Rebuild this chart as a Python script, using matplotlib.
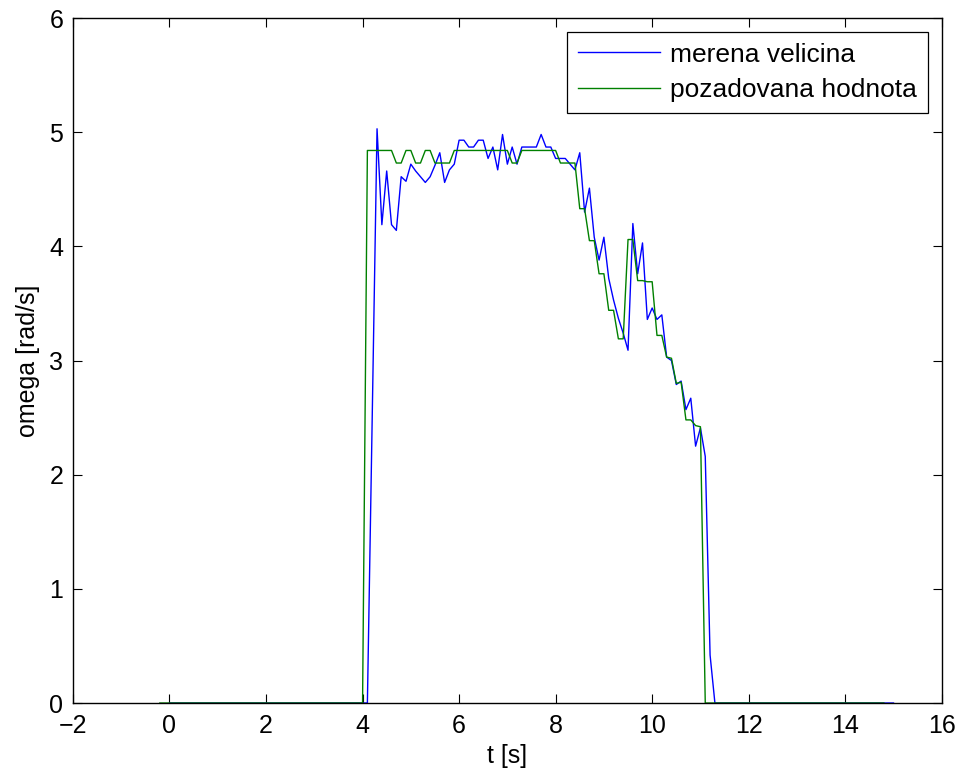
import numpy as np
import matplotlib
matplotlib.use("Agg")
import matplotlib.pyplot as plt

plt.rcParams["font.family"] = ["Liberation Sans", "DejaVu Sans"]

# measured value (blue), sampled every 0.1 s starting at 4.1 s; zero elsewhere on 0..15 s
meas_start = 4.1
meas_vals = [0.0, 2.5, 5.03, 4.19, 4.66, 4.19, 4.14, 4.61, 4.57, 4.72,
             4.66, 4.61, 4.56, 4.61, 4.71, 4.82, 4.56, 4.67, 4.72, 4.93,
             4.93, 4.87, 4.87, 4.93, 4.93, 4.77, 4.87, 4.67, 4.98, 4.72,
             4.87, 4.72, 4.87, 4.87, 4.87, 4.87, 4.98, 4.87, 4.87, 4.77,
             4.77, 4.77, 4.72, 4.67, 4.82, 4.30, 4.51, 4.08, 3.88, 4.08,
             3.72, 3.53, 3.37, 3.24, 3.09, 4.20, 3.76, 4.03, 3.36, 3.46,
             3.36, 3.40, 3.03, 3.00, 2.79, 2.82, 2.57, 2.67, 2.25, 2.41,
             2.16, 0.42, 0.0]
meas_range = [0.0, 15.0]

# set point (green), sampled every 0.1 s starting at 4.0 s; zero elsewhere on -0.2..14.8 s
ref_start = 4.0
ref_vals = [0.0, 4.84, 4.84, 4.84, 4.84, 4.84, 4.84, 4.73, 4.73, 4.84,
            4.84, 4.73, 4.73, 4.84, 4.84, 4.73, 4.73, 4.73, 4.73, 4.84,
            4.84, 4.84, 4.84, 4.84, 4.84, 4.84, 4.84, 4.84, 4.84, 4.84,
            4.84, 4.73, 4.73, 4.84, 4.84, 4.84, 4.84, 4.84, 4.84, 4.84,
            4.84, 4.73, 4.73, 4.73, 4.73, 4.33, 4.33, 4.05, 4.05, 3.76,
            3.76, 3.44, 3.44, 3.19, 3.19, 4.06, 4.06, 3.70, 3.70, 3.69,
            3.69, 3.22, 3.22, 3.03, 3.02, 2.80, 2.81, 2.48, 2.48, 2.43,
            2.42, 0.0]
ref_range = [-0.2, 14.8]

dt = 0.1


def build(start, vals, rng):
    t = start + dt * np.arange(len(vals))
    t = np.concatenate([[rng[0]], t, [rng[1]]])
    v = np.concatenate([[0.0], vals, [0.0]])
    return t, v


t_meas, y_meas = build(meas_start, meas_vals, meas_range)
t_ref, y_ref = build(ref_start, ref_vals, ref_range)

fig = plt.figure(figsize=(9.6, 7.74), dpi=100)
ax = fig.add_axes([0.076, 0.0917, 0.905, 0.885])

ax.plot(t_meas, y_meas, color="#0000ff", lw=1.0, label="merena velicina")
ax.plot(t_ref, y_ref, color="#008000", lw=1.0, label="pozadovana hodnota")

ax.set_xlim(-2, 16)
ax.set_ylim(0, 6)
ax.set_xticks(np.arange(-2, 17, 2))
ax.set_yticks(np.arange(0, 7, 1))
ax.tick_params(direction="in", length=6.5, width=0.8, labelsize=18,
               top=True, right=True)
ax.tick_params(axis="x", pad=8)
ax.tick_params(axis="y", pad=7)
for s in ax.spines.values():
    s.set_linewidth(1.0)

ax.set_xlabel("t [s]", fontsize=18, labelpad=4)
ax.set_ylabel("omega [rad/s]", fontsize=18, labelpad=7)

leg = ax.legend(loc="upper right", fontsize=19, fancybox=False,
                framealpha=1, edgecolor="black", borderaxespad=0.53,
                handlelength=3.1, borderpad=0.4, labelspacing=0.45,
                handletextpad=0.4)
leg.get_frame().set_linewidth(0.9)

fig.savefig("out.png", dpi=100)
